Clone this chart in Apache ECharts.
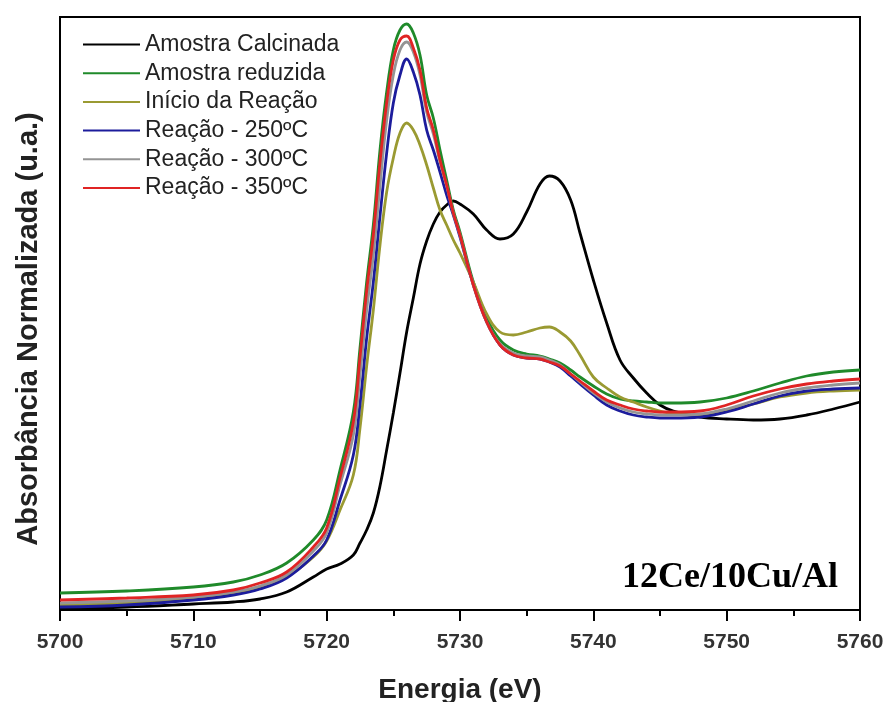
<!DOCTYPE html>
<html>
<head>
<meta charset="utf-8">
<script src="https://cdn.jsdelivr.net/npm/echarts@6/dist/echarts.min.js"></script>
<style>html,body{margin:0;padding:0;background:#fff}#c{width:888px;height:702px}</style>
</head>
<body>
<div id="c"></div>
<script>
// Energy (eV)
const energy = [5700,5705,5710,5713,5715,5717,5719,5720,5721,5722,5722.5,5723,5723.5,5724,5724.5,5725,5725.5,5726,5726.5,5727,5727.5,5728,5728.5,5729,5729.5,5730,5731,5732,5733,5734,5735,5736,5736.7,5737.5,5738.3,5739,5740,5741,5742,5743,5744,5745,5746,5748,5750,5752,5754,5756,5758,5760];
// Normalized absorbance (arbitrary units)
const calcinada = [1.5,3,6,8,11,18,33,41,46,55,67,80,97,124,160,197,237,278,312,346,369,386,398,405,409,406,396,380,371,376,398,426,434,429,410,377,330,287,250,232,217,205,199,193,191,190,191,195,201,208];
const reduzida = [17,19,23,28,35,47,70,90,140,198,262,328,385,460,518,560,580,586,577,555,515,492,460,430,400,378,328,292,270,260,256,254,251,247,240,233,224,216,211,209,208,207,207,208,212,219,227,234,238,240];
const inicio = [5,7,11,16,22,33,53,69,100,135,182,244,300,365,418,452,477,487,480,465,445,422,400,385,370,357,328,296,278,275,278,282,283,278,269,255,233,222,213,208,203,199,196,195,199,206,213,217,219,220];
const r250 = [3,5,10,15,21,32,54,70,110,155,206,272,328,394,457,507,535,551,538,515,480,460,438,415,395,373,325,288,265,255,252,251,248,243,234,226,215,205,199,195,193,192,192,193,198,206,214,219,221,222];
const r300 = [7,9,13,18,24,35,59,77,125,175,235,300,355,425,490,535,560,568,558,535,498,476,448,424,397,375,325,288,266,257,254,253,250,245,236,228,217,208,202,198,196,195,195,196,201,209,217,222,225,227];
const r350 = [10,12,15,20,27,38,63,82,132,188,253,319,375,448,507,550,570,574,562,540,502,480,450,425,397,375,325,288,265,255,252,251,248,244,236,229,219,210,205,201,199,198,198,199,205,214,221,226,229,231];
const xTicks = [5700,5710,5720,5730,5740,5750,5760];

const seriesDefs = [
  {name:'Amostra Calcinada', data:calcinada, color:'#000000'},
  {name:'Amostra reduzida', data:reduzida, color:'#1f8a2a'},
  {name:'Início da Reação', data:inicio, color:'#9a9a32'},
  {name:'Reação - 250ºC', data:r250, color:'#1c1c9c'},
  {name:'Reação - 300ºC', data:r300, color:'#949494'},
  {name:'Reação - 350ºC', data:r350, color:'#e02424'}
];

const chart = echarts.init(document.getElementById('c'), null, {renderer:'canvas'});
chart.setOption({
  animation:false,
  backgroundColor:'#ffffff',
  grid:{left:60, right:28, top:17, bottom:92, outerBoundsMode:'none', containLabel:false,
    show:true, borderColor:'#000', borderWidth:2, backgroundColor:'transparent'},
  legend:{
    orient:'vertical', left:77, top:28,
    itemWidth:57, itemHeight:14, itemGap:5.7,
    itemStyle:{opacity:0},
    textStyle:{fontFamily:'Liberation Sans, Arial, sans-serif', fontSize:23, color:'#222', lineHeight:23},
    data:seriesDefs.map(s=>s.name)
  },
  xAxis:{
    type:'value', min:5700, max:5760, interval:10,
    name:'Energia (eV)', nameLocation:'middle', nameGap:66,
    nameTextStyle:{fontFamily:'Liberation Sans, Arial, sans-serif', fontSize:28, fontWeight:'bold', color:'#222'},
    axisLine:{show:true, onZero:false, lineStyle:{color:'#000', width:2}},
    axisTick:{show:true, inside:false, length:11, lineStyle:{color:'#000', width:2}},
    minorTick:{show:true, splitNumber:2, length:6, lineStyle:{color:'#000', width:2}},
    axisLabel:{margin:22, fontFamily:'Liberation Sans, Arial, sans-serif', fontSize:21, fontWeight:'bold', color:'#333',
      formatter:function(v){return xTicks.indexOf(v)>=0 ? String(v) : '';}},
    splitLine:{show:false}
  },
  yAxis:{
    type:'value', min:0, max:593,
    axisLine:{show:true, lineStyle:{color:'#000', width:2}},
    axisTick:{show:false}, axisLabel:{show:false}, splitLine:{show:false}
  },
  graphic:[{
    type:'text', right:50, top:560,
    style:{text:'12Ce/10Cu/Al', font:'bold 36px "Liberation Serif", "Times New Roman", serif', fill:'#000'}
  },{
    type:'text', x:29, y:329, rotation:Math.PI/2,
    style:{text:'Absorbância Normalizada (u.a.)', font:'bold 29px "Liberation Sans", Arial, sans-serif', fill:'#222', align:'center', verticalAlign:'middle'}
  }],
  series:seriesDefs.map(s=>({
    name:s.name, type:'line', smooth:0.4, symbol:'none',
    data:energy.map((e,i)=>[e, s.data[i]]),
    lineStyle:{color:s.color, width:2.8},
    itemStyle:{color:s.color}
  }))
});
</script>
</body>
</html>
